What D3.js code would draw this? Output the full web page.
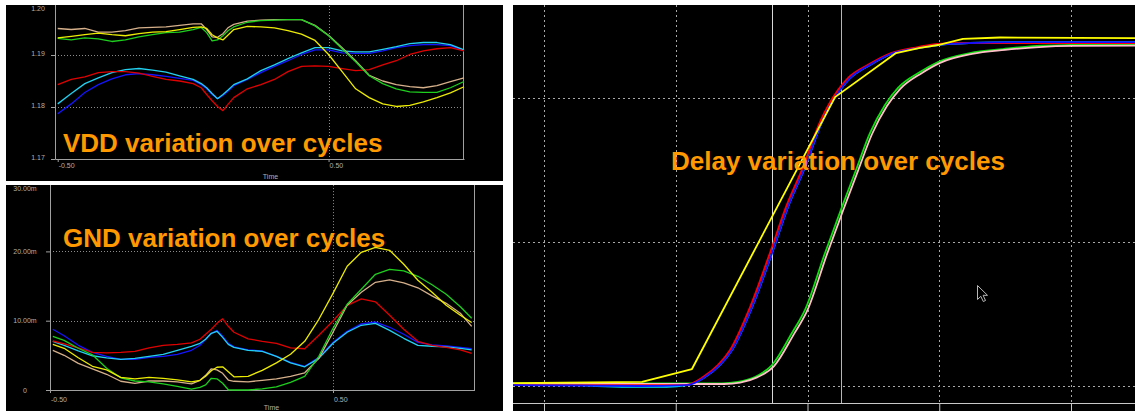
<!DOCTYPE html>
<html>
<head>
<meta charset="utf-8">
<script src="https://cdn.jsdelivr.net/npm/d3@7/dist/d3.min.js"></script>
<style>
  html, body { margin: 0; padding: 0; background: #fff; }
  svg { display: block; }
</style>
</head>
<body>
<svg id="chart" width="1135" height="411"></svg>
<script>
// ---------- VDD supply droop (V) over simulation time ----------
const vddTime = [-0.50,-0.45,-0.40,-0.35,-0.30,-0.25,-0.20,-0.15,-0.10,-0.05,0.00,0.03,0.05,0.07,0.09,0.11,0.13,0.15,0.20,0.25,0.30,0.35,0.40,0.45,0.50,0.55,0.60,0.65,0.70,0.75,0.80,0.85,0.90,0.95,1.00];
const vddTan    = [1.1951,1.1949,1.1951,1.1944,1.1944,1.1947,1.1952,1.1953,1.1954,1.1957,1.1960,1.1960,1.1949,1.1935,1.1934,1.1941,1.1953,1.1959,1.1965,1.1967,1.1968,1.1968,1.1968,1.1957,1.1938,1.1914,1.1889,1.1861,1.1850,1.1843,1.1839,1.1837,1.1841,1.1849,1.1856];
const vddGreen  = [1.1932,1.1929,1.1933,1.1931,1.1926,1.1929,1.1935,1.1939,1.1943,1.1944,1.1949,1.1953,1.1943,1.1927,1.1929,1.1937,1.1947,1.1954,1.1963,1.1966,1.1967,1.1968,1.1968,1.1956,1.1937,1.1912,1.1887,1.1860,1.1845,1.1835,1.1829,1.1828,1.1828,1.1837,1.1849];
const vddYellow = [1.1933,1.1936,1.1939,1.1942,1.1939,1.1937,1.1941,1.1944,1.1945,1.1949,1.1953,1.1954,1.1951,1.1939,1.1933,1.1929,1.1939,1.1949,1.1955,1.1954,1.1952,1.1947,1.1940,1.1928,1.1901,1.1868,1.1835,1.1818,1.1806,1.1801,1.1803,1.1810,1.1818,1.1827,1.1839];
const vddCyan   = [1.1806,1.1826,1.1845,1.1856,1.1866,1.1872,1.1874,1.1871,1.1867,1.1860,1.1853,1.1845,1.1837,1.1826,1.1816,1.1824,1.1833,1.1843,1.1854,1.1870,1.1881,1.1893,1.1904,1.1914,1.1914,1.1908,1.1906,1.1906,1.1911,1.1916,1.1922,1.1924,1.1924,1.1920,1.1910];
const vddBlue   = [1.1787,1.1806,1.1828,1.1843,1.1854,1.1862,1.1864,1.1862,1.1859,1.1855,1.1851,1.1843,1.1835,1.1824,1.1816,1.1822,1.1831,1.1841,1.1853,1.1866,1.1878,1.1889,1.1901,1.1910,1.1910,1.1904,1.1903,1.1903,1.1908,1.1914,1.1918,1.1920,1.1920,1.1918,1.1908];
const vddRed    = [1.1843,1.1853,1.1858,1.1866,1.1868,1.1868,1.1865,1.1859,1.1853,1.1850,1.1845,1.1837,1.1824,1.1812,1.1801,1.1793,1.1806,1.1818,1.1835,1.1843,1.1853,1.1868,1.1878,1.1879,1.1878,1.1874,1.1870,1.1872,1.1881,1.1889,1.1901,1.1908,1.1912,1.1914,1.1908];
const vddTicks = [1.17, 1.18, 1.19, 1.20];
const vddGrid  = [1.18, 1.19];

// ---------- GND bounce (mV) over simulation time ----------
const gndTime = [-0.49,-0.45,-0.40,-0.35,-0.30,-0.25,-0.20,-0.15,-0.10,-0.05,0.00,0.03,0.05,0.07,0.09,0.11,0.13,0.15,0.20,0.25,0.30,0.35,0.40,0.45,0.50,0.55,0.60,0.65,0.70,0.75,0.80,0.85,0.90,0.95,0.99];
const gndBlue   = [8.76,7.82,6.45,5.44,4.86,4.43,4.43,4.72,4.86,5.15,5.73,6.45,7.32,8.18,8.61,7.75,6.74,6.23,5.80,5.63,4.86,4.00,3.42,4.72,6.88,8.47,9.55,9.81,9.05,8.04,6.88,6.52,6.38,6.16,5.95];
const gndCyan   = [7.03,6.45,5.66,4.94,4.65,4.43,4.57,4.86,5.15,5.73,6.31,6.74,7.32,8.18,8.47,7.60,6.59,6.16,5.73,5.58,4.86,3.92,3.35,4.57,6.74,8.33,9.34,9.62,8.61,7.46,6.45,6.31,6.23,6.02,5.80];
const gndRed    = [7.07,6.67,6.09,5.44,5.37,5.44,5.58,6.09,6.45,6.59,6.81,7.32,8.04,8.76,9.62,10.27,9.19,8.33,7.39,7.03,6.74,6.09,5.95,7.89,9.96,12.22,13.16,12.73,10.78,8.76,7.03,6.45,6.16,5.80,5.30];
const gndYellow = [6.59,6.02,4.65,3.42,2.91,1.83,1.62,1.83,1.69,1.47,1.18,1.40,1.98,2.77,3.28,3.35,2.63,1.90,1.98,2.84,3.92,5.15,7.03,10.20,13.95,17.85,19.87,20.59,20.16,18.14,15.83,14.10,12.22,10.78,9.73];
const gndGreen  = [7.75,7.17,6.02,5.08,3.13,1.76,1.30,1.18,0.89,0.53,0.14,0.39,0.75,1.69,1.62,0.97,0.03,0,0,0.17,0.46,1.11,1.98,4.86,8.90,12.37,14.53,16.70,17.42,17.20,16.41,15.18,13.81,12.01,10.35];
const gndTan    = [5.73,5.01,3.85,3.06,2.27,1.26,0.97,1.30,1.30,1.18,0.89,1.40,2.12,3.06,2.91,2.41,1.44,1.26,1.18,1.40,1.62,1.98,2.48,4.57,8.33,12.22,14.10,15.54,15.90,15.47,14.75,13.59,12.51,11.07,9.19];
const gndTicks = [0, 10, 20, 30];
const gndGrid  = [10, 20];

const timeTicks = [-0.5, 0.5];
const timeGrid  = [0.5];

// ---------- output transitions per cycle: [time (grid units), normalised voltage] ----------
const delayYellow = [[0.765,0.010],[1.744,0.014],[2.123,0.059],[3.209,1.003],[3.672,1.156],[3.854,1.174],[3.991,1.184],[4.180,1.205],[4.461,1.210],[5.486,1.208]];
const delayCyan   = [[0.765,0.003],[1.270,0.003],[1.400,0.000],[1.780,-0.003],[1.930,-0.003],[2.085,0.003],[2.222,0.031],[2.336,0.073],[2.427,0.125],[2.579,0.274],[2.731,0.462],[2.852,0.622],[2.981,0.760],[3.110,0.917],[3.247,1.028],[3.323,1.069],[3.474,1.115],[3.649,1.156],[3.854,1.174],[3.991,1.184],[4.233,1.191],[4.613,1.194],[5.486,1.194]];
const delayBlue   = [[0.765,0.003],[1.729,0.000],[2.085,0.003],[2.222,0.031],[2.336,0.073],[2.427,0.125],[2.579,0.274],[2.731,0.462],[2.852,0.622],[2.981,0.760],[3.110,0.917],[3.247,1.028],[3.323,1.069],[3.474,1.115],[3.649,1.156],[3.854,1.174],[3.991,1.184],[4.233,1.191],[4.613,1.194],[5.486,1.194]];
const delayRed    = [[0.765,0.003],[1.729,0.003],[2.070,0.003],[2.207,0.031],[2.321,0.073],[2.412,0.125],[2.564,0.274],[2.715,0.462],[2.837,0.622],[2.966,0.760],[3.095,0.917],[3.231,1.028],[3.307,1.069],[3.459,1.115],[3.634,1.156],[3.839,1.177],[3.991,1.188],[4.233,1.191],[4.613,1.191],[5.486,1.191]];
const delayGreen  = [[0.765,0.009],[2.351,0.009],[2.472,0.014],[2.601,0.031],[2.731,0.073],[2.882,0.184],[2.981,0.264],[3.133,0.462],[3.262,0.622],[3.368,0.750],[3.474,0.878],[3.588,0.976],[3.687,1.035],[3.854,1.090],[3.991,1.125],[4.233,1.156],[4.484,1.170],[4.742,1.181],[5.000,1.184],[5.486,1.186]];
const delayPink   = [[0.765,0.007],[2.366,0.007],[2.488,0.012],[2.617,0.030],[2.746,0.069],[2.898,0.181],[2.996,0.260],[3.148,0.458],[3.277,0.618],[3.383,0.747],[3.490,0.875],[3.603,0.972],[3.702,1.031],[3.869,1.087],[4.006,1.122],[4.249,1.153],[4.499,1.167],[4.757,1.177],[5.015,1.181],[5.486,1.182]];
const delayGridT = [1, 2, 3, 4, 5];
const delayGridV = [0, 0.5, 1.0];
const delayCursors = [2.731, 3.254];

// ---------- drawing ----------
const FONT = "'Liberation Sans', Arial, sans-serif";
const TITLE_COLOR = "#ff9900";
const svg = d3.select("#chart");
svg.append("rect").attr("width", 1135).attr("height", 411).attr("fill", "#fff");
const defs = svg.append("defs");

function makePanel(box, id) {
  defs.append("clipPath").attr("id", id).append("rect")
    .attr("x", box.x).attr("y", box.y).attr("width", box.w).attr("height", box.h);
  const g = svg.append("g").attr("clip-path", `url(#${id})`);
  g.append("rect").attr("x", box.x).attr("y", box.y)
    .attr("width", box.w).attr("height", box.h).attr("fill", "#000");
  return g;
}

function title(g, text, x, y) {
  g.append("text").attr("x", x).attr("y", y)
    .attr("font-family", FONT).attr("font-weight", "bold").attr("font-size", 26)
    .attr("fill", TITLE_COLOR).text(text);
}

function wavePanel(o) {
  const g = makePanel(o.box, o.id);
  const [x0, x1] = o.x.range();
  const [yb, yt] = o.y.range();

  // dotted grid
  g.selectAll(null).data(o.gridY).join("line")
    .attr("x1", x0).attr("x2", x1)
    .attr("y1", d => Math.round(o.y(d)) + 0.5).attr("y2", d => Math.round(o.y(d)) + 0.5)
    .attr("stroke", "#8c8c8c").attr("stroke-dasharray", "1,2");
  g.selectAll(null).data(o.gridX).join("line")
    .attr("x1", d => Math.round(o.x(d)) + 0.5).attr("x2", d => Math.round(o.x(d)) + 0.5)
    .attr("y1", yt).attr("y2", yb)
    .attr("stroke", "#8c8c8c").attr("stroke-dasharray", "1,2");

  // frame and axes
  const ay = g.append("g").attr("transform", `translate(${Math.floor(x0)},0)`)
    .call(d3.axisLeft(o.y).tickValues(o.ticksY).tickSize(4).tickSizeOuter(0).tickFormat(""));
  const axb = g.append("g").attr("transform", `translate(0,${Math.floor(yb)})`)
    .call(d3.axisBottom(o.x).tickValues(timeTicks).tickSize(3).tickSizeOuter(0).tickFormat(""));
  [ay, axb].forEach(a => {
    a.select(".domain").attr("stroke", "#a0a0a0");
    a.selectAll(".tick line").attr("stroke", "#a0a0a0");
  });
  g.append("line")
    .attr("x1", Math.round(x1) - 0.5).attr("x2", Math.round(x1) - 0.5)
    .attr("y1", yt).attr("y2", Math.floor(yb) + 0.5)
    .attr("stroke", "#a0a0a0");

  // tick labels (the topmost one is kept inside the panel)
  const lab = sel => sel.attr("font-family", FONT).attr("font-size", 7).attr("fill", "#b0b0b0");
  g.selectAll(null).data(o.ticksY).join("text")
    .attr("x", o.yLabelX).attr("y", d => Math.max(o.y(d) + o.yLabelDy, o.box.y + 6))
    .attr("text-anchor", "middle").text(o.fmtY).call(lab);
  g.selectAll(null).data(timeTicks).join("text")
    .attr("x", d => o.x(d) + 1).attr("y", o.xLabelY)
    .attr("text-anchor", "start").text(d => d3.format(".2f")(d).replace("\u2212", "-")).call(lab);
  g.append("text").attr("x", o.timeX).attr("y", o.timeY)
    .attr("text-anchor", "middle").text("Time").call(lab);

  // waveforms
  const line = d3.line().x((d, i) => o.x(o.time[i])).y(d => o.y(d));
  g.selectAll(null).data(o.series).join("path")
    .attr("d", s => line(s.values))
    .attr("fill", "none").attr("stroke", s => s.color)
    .attr("stroke-width", 1.3).attr("stroke-linejoin", "round");

  title(g, o.title, o.titleX, o.titleY);
}

// VDD panel
wavePanel({
  id: "clipVdd", box: {x: 6, y: 5, w: 497, h: 176},
  x: d3.scaleLinear().domain([-0.51, 1.0]).range([55, 464]),
  y: d3.scaleLinear().domain([1.17, 1.20]).range([159, 3]),
  time: vddTime, ticksY: vddTicks, gridY: vddGrid, gridX: timeGrid,
  fmtY: d3.format(".2f"), yLabelX: 38, yLabelDy: 0.5,
  xLabelY: 168, timeX: 270.5, timeY: 179,
  series: [
    {color: "#1414ff", values: vddBlue},
    {color: "#22d0f0", values: vddCyan},
    {color: "#e00000", values: vddRed},
    {color: "#d6b08a", values: vddTan},
    {color: "#1ecf1e", values: vddGreen},
    {color: "#ecec00", values: vddYellow}
  ],
  title: "VDD variation over cycles", titleX: 63, titleY: 152
});

// GND panel
wavePanel({
  id: "clipGnd", box: {x: 6, y: 185, w: 497, h: 226},
  x: d3.scaleLinear().domain([-0.5, 1.0]).range([50, 474.5]),
  y: d3.scaleLinear().domain([0, 30]).range([390, 182.1]),
  time: gndTime, ticksY: gndTicks, gridY: gndGrid, gridX: timeGrid,
  fmtY: d => d === 0 ? "0" : d.toFixed(2) + "m", yLabelX: 25, yLabelDy: 2.5,
  xLabelY: 402, timeX: 271.5, timeY: 410,
  series: [
    {color: "#1414ff", values: gndBlue},
    {color: "#22d0f0", values: gndCyan},
    {color: "#e00000", values: gndRed},
    {color: "#d6b08a", values: gndTan},
    {color: "#1ecf1e", values: gndGreen},
    {color: "#ecec00", values: gndYellow}
  ],
  title: "GND variation over cycles", titleX: 63, titleY: 247
});

// Delay panel
(function () {
  const box = {x: 513, y: 5, w: 622, h: 406};
  const g = makePanel(box, "clipDelay");
  const xD = d3.scaleLinear().domain([1, 5]).range([544, 1071]);
  const yD = d3.scaleLinear().domain([0, 1]).range([386, 98]);
  const axisY = 403;

  g.selectAll(null).data(delayGridV).join("line")
    .attr("x1", box.x).attr("x2", box.x + box.w)
    .attr("y1", d => Math.round(yD(d)) + 0.5).attr("y2", d => Math.round(yD(d)) + 0.5)
    .attr("stroke", "#a8a8a8").attr("stroke-dasharray", "2,3");
  g.selectAll(null).data(delayGridT).join("line")
    .attr("x1", d => Math.round(xD(d)) + 0.5).attr("x2", d => Math.round(xD(d)) + 0.5)
    .attr("y1", box.y).attr("y2", axisY)
    .attr("stroke", "#a8a8a8").attr("stroke-dasharray", "2,3");

  const ax = g.append("g").attr("transform", `translate(0,${axisY})`)
    .call(d3.axisBottom(xD).tickValues(delayGridT).tickSize(8).tickSizeOuter(0).tickFormat(""));
  ax.select(".domain").remove();
  ax.selectAll(".tick line").attr("stroke", "#c8c8c8");
  g.append("line").attr("x1", box.x).attr("x2", box.x + box.w)
    .attr("y1", axisY + 0.5).attr("y2", axisY + 0.5).attr("stroke", "#c8c8c8");

  // measurement cursors
  g.selectAll(null).data(delayCursors).join("line")
    .attr("x1", d => Math.round(xD(d)) + 0.5).attr("x2", d => Math.round(xD(d)) + 0.5)
    .attr("y1", box.y).attr("y2", axisY)
    .attr("stroke", (d, i) => i === 0 ? "#d8d8d8" : "#8cc4d4");

  const lineS = d3.line().x(d => xD(d[0])).y(d => yD(d[1])).curve(d3.curveMonotoneX);
  const lineL = d3.line().x(d => xD(d[0])).y(d => yD(d[1]));
  const series = [
    {color: "#10e010", values: delayGreen, gen: lineS},
    {color: "#ffc0c8", values: delayPink, gen: lineS},
    {color: "#00e8ff", values: delayCyan, gen: lineS},
    {color: "#ff0000", values: delayRed, gen: lineS},
    {color: "#1010ff", values: delayBlue, gen: lineS},
    {color: "#ffff00", values: delayYellow, gen: lineL}
  ];
  g.selectAll(null).data(series).join("path")
    .attr("d", s => s.gen(s.values))
    .attr("fill", "none").attr("stroke", s => s.color)
    .attr("stroke-width", 1.8).attr("stroke-linejoin", "round");

  // mouse pointer
  g.append("path")
    .attr("transform", "translate(977.5,285.5)")
    .attr("d", "M0,0 L0,14 L3.3,10.8 L5.8,16 L8,15 L5.6,9.8 L10,9.8 Z")
    .attr("fill", "#000").attr("stroke", "#b8b8b8").attr("stroke-width", 1);

  title(g, "Delay variation over cycles", 671, 170);
})();
</script>
</body>
</html>
